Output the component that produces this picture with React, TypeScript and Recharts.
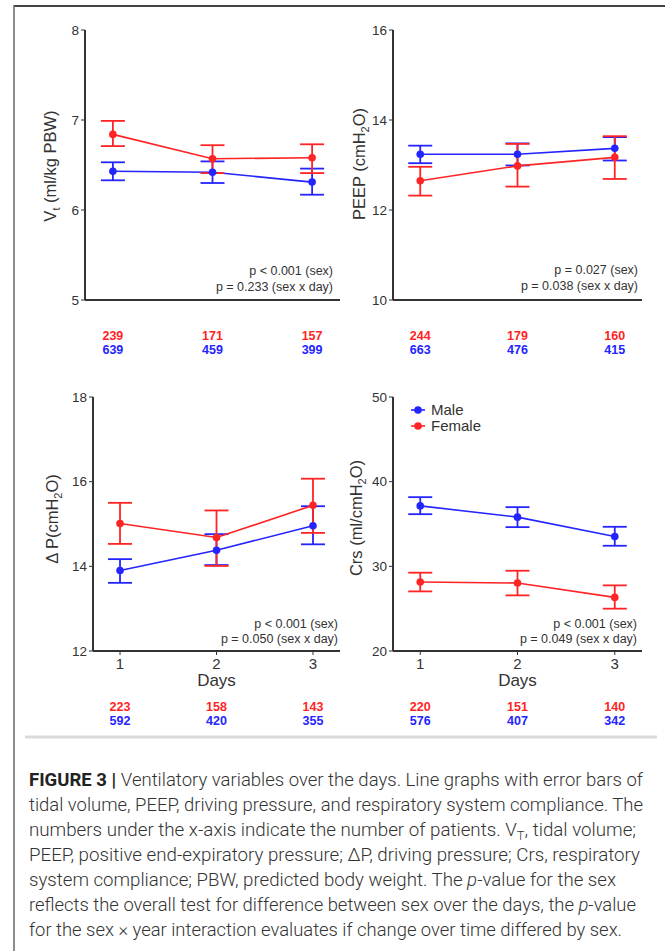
import { LineChart, Line, XAxis, YAxis, ErrorBar, Legend } from "recharts";

const days = [1, 2, 3];

// Tidal volume (ml/kg PBW)
const vtMale = [6.43, 6.42, 6.31];
const vtMaleLow = [6.33, 6.3, 6.17];
const vtMaleHigh = [6.53, 6.54, 6.46];
const vtFemale = [6.84, 6.57, 6.58];
const vtFemaleLow = [6.71, 6.41, 6.41];
const vtFemaleHigh = [6.99, 6.72, 6.73];
const vtMaleN = [639, 459, 399];
const vtFemaleN = [239, 171, 157];
const vtTicks = [5, 6, 7, 8];

// PEEP (cmH2O)
const peepMale = [13.24, 13.24, 13.37];
const peepMaleLow = [13.04, 12.99, 13.1];
const peepMaleHigh = [13.43, 13.48, 13.62];
const peepFemale = [12.65, 12.98, 13.17];
const peepFemaleLow = [12.32, 12.52, 12.69];
const peepFemaleHigh = [12.96, 13.47, 13.64];
const peepMaleN = [663, 476, 415];
const peepFemaleN = [244, 179, 160];
const peepTicks = [10, 12, 14, 16];

// Driving pressure (cmH2O)
const dpMale = [13.9, 14.38, 14.96];
const dpMaleLow = [13.61, 14.03, 14.52];
const dpMaleHigh = [14.17, 14.76, 15.42];
const dpFemale = [15.01, 14.68, 15.44];
const dpFemaleLow = [14.53, 14.01, 14.79];
const dpFemaleHigh = [15.5, 15.32, 16.07];
const dpMaleN = [592, 420, 355];
const dpFemaleN = [223, 158, 143];
const dpTicks = [12, 14, 16, 18];

// Respiratory system compliance (ml/cmH2O)
const crsMale = [37.14, 35.81, 33.53];
const crsMaleLow = [36.16, 34.63, 32.43];
const crsMaleHigh = [38.17, 36.99, 34.67];
const crsFemale = [28.15, 28.03, 26.33];
const crsFemaleLow = [27.04, 26.57, 25.0];
const crsFemaleHigh = [29.25, 29.48, 27.75];
const crsMaleN = [576, 407, 342];
const crsFemaleN = [220, 151, 140];
const crsTicks = [20, 30, 40, 50];

const legendOrder = ["Male", "Female"];

const RED = "#ff2424";
const BLUE = "#2424ff";
const INK = "#333";
const FONT = "'Liberation Sans', Arial, sans-serif";

type Row = {
  day: number;
  male: number;
  maleErr: [number, number];
  female: number;
  femaleErr: [number, number];
  maleN: number;
  femaleN: number;
};

function buildRows(
  m: number[], mLo: number[], mHi: number[],
  f: number[], fLo: number[], fHi: number[],
  mN: number[], fN: number[]
): Row[] {
  return days.map((day, i) => ({
    day,
    male: m[i],
    maleErr: [m[i] - mLo[i], mHi[i] - m[i]],
    female: f[i],
    femaleErr: [f[i] - fLo[i], fHi[i] - f[i]],
    maleN: mN[i],
    femaleN: fN[i],
  }));
}

const vtRows = buildRows(vtMale, vtMaleLow, vtMaleHigh, vtFemale, vtFemaleLow, vtFemaleHigh, vtMaleN, vtFemaleN);
const peepRows = buildRows(peepMale, peepMaleLow, peepMaleHigh, peepFemale, peepFemaleLow, peepFemaleHigh, peepMaleN, peepFemaleN);
const dpRows = buildRows(dpMale, dpMaleLow, dpMaleHigh, dpFemale, dpFemaleLow, dpFemaleHigh, dpMaleN, dpFemaleN);
const crsRows = buildRows(crsMale, crsMaleLow, crsMaleHigh, crsFemale, crsFemaleLow, crsFemaleHigh, crsMaleN, crsFemaleN);

type Box = { left: number; top: number; width: number; height: number };
type Plot = { x0: number; x1: number; y0: number; y1: number };

interface PanelProps {
  rows: Row[];
  ticks: number[];
  box: Box;
  plot: Plot;
  bottom?: boolean;
  legend?: boolean;
}

function Panel({ rows, ticks, box, plot, bottom, legend }: PanelProps) {
  const yW = 30;
  const xH = bottom ? 75 : 50;
  const margin = {
    left: plot.x0 - box.left - yW,
    right: box.left + box.width - plot.x1,
    top: plot.y0 - box.top,
    bottom: box.top + box.height - plot.y1 - xH,
  };

  const renderTick = (props: any) => {
    const { x, y, payload } = props;
    const row = rows.find((r) => r.day === payload.value);
    if (!row) return <g />;
    const redY = bottom ? 56 : 40;
    const blueY = bottom ? 70 : 54;
    return (
      <g>
        {bottom && (
          <text x={x} y={y + 14} textAnchor="middle" fill={INK} fontSize={15} fontFamily={FONT}>
            {row.day}
          </text>
        )}
        <text x={x} y={y + redY} textAnchor="middle" fill={RED} fontSize={12.5} fontWeight={700} fontFamily={FONT}>
          {row.femaleN}
        </text>
        <text x={x} y={y + blueY} textAnchor="middle" fill={BLUE} fontSize={12.5} fontWeight={700} fontFamily={FONT}>
          {row.maleN}
        </text>
      </g>
    );
  };

  return (
    <div style={{ position: "absolute", left: box.left, top: box.top }}>
      <LineChart width={box.width} height={box.height} data={rows} margin={margin}>
        <XAxis
          type="number"
          dataKey="day"
          domain={[0.72, 3.28]}
          ticks={days}
          interval={0}
          allowDataOverflow
          height={xH}
          axisLine={{ stroke: INK, strokeWidth: 2 }}
          tickLine={bottom ? { stroke: INK, strokeWidth: 1 } : false}
          tickSize={bottom ? 4 : 0}
          tickMargin={0}
          tick={renderTick}
        />
        <YAxis
          type="number"
          domain={[ticks[0], ticks[ticks.length - 1]]}
          ticks={ticks}
          interval={0}
          allowDataOverflow
          width={yW}
          axisLine={{ stroke: INK, strokeWidth: 2 }}
          tickLine={{ stroke: INK, strokeWidth: 1 }}
          tickSize={4}
          tickMargin={2}
          tick={{ fill: INK, fontSize: 13.5, fontFamily: FONT }}
        />
        {legend && (
          <Legend
            layout="vertical"
            align="center"
            verticalAlign="middle"
            wrapperStyle={{ left: 411 - box.left, top: 402 - box.top, width: "auto", height: "auto" }}
            content={({ payload }: any) => {
              const items = [...(payload || [])].sort(
                (a: any, b: any) => legendOrder.indexOf(a.value) - legendOrder.indexOf(b.value)
              );
              return (
                <div style={{ fontFamily: FONT, fontSize: 15, color: INK }}>
                  {items.map((p: any) => (
                    <div key={p.value} style={{ display: "flex", alignItems: "center", height: 15.7 }}>
                      <svg width={14} height={12} style={{ marginRight: 6 }}>
                        <line x1={0} y1={6} x2={14} y2={6} stroke={p.color} strokeWidth={1.6} />
                        <circle cx={7} cy={6} r={3.8} fill={p.color} />
                      </svg>
                      <span>{p.value}</span>
                    </div>
                  ))}
                </div>
              );
            }}
          />
        )}
        <Line
          name="Male"
          dataKey="male"
          type="linear"
          stroke={BLUE}
          strokeWidth={1.6}
          dot={{ r: 3.8, fill: BLUE, stroke: BLUE, strokeWidth: 0 }}
          activeDot={false}
          isAnimationActive={false}
        >
          <ErrorBar dataKey="maleErr" direction="y" width={12} stroke={BLUE} strokeWidth={1.8} />
        </Line>
        <Line
          name="Female"
          dataKey="female"
          type="linear"
          stroke={RED}
          strokeWidth={1.6}
          dot={{ r: 3.8, fill: RED, stroke: RED, strokeWidth: 0 }}
          activeDot={false}
          isAnimationActive={false}
        >
          <ErrorBar dataKey="femaleErr" direction="y" width={12} stroke={RED} strokeWidth={1.8} />
        </Line>
      </LineChart>
    </div>
  );
}

function YLabel({ x, y, children }: { x: number; y: number; children: React.ReactNode }) {
  return (
    <text
      x={x}
      y={y}
      transform={`rotate(-90 ${x} ${y})`}
      textAnchor="middle"
      fontSize={16.5}
      fill={INK}
      fontFamily={FONT}
    >
      {children}
    </text>
  );
}

function PText({ x, y, lines }: { x: number; y: number; lines: string[] }) {
  return (
    <>
      {lines.map((l, i) => (
        <text key={i} x={x} y={y + i * 15.5} textAnchor="end" fontSize={12.5} fill={INK} fontFamily={FONT}>
          {l}
        </text>
      ))}
    </>
  );
}

const CAP_FONT = "Roboto, 'Liberation Sans', Arial, sans-serif";

function CaptionLine({ y, len, children }: { y: number; len: number; children: React.ReactNode }) {
  return (
    <text
      x={29}
      y={y}
      textLength={len}
      lengthAdjust="spacingAndGlyphs"
      fontSize={17.5}
      fontWeight={300}
      fill="#333"
      fontFamily={CAP_FONT}
    >
      {children}
    </text>
  );
}

export default function App() {
  return (
    <div
      style={{
        position: "absolute",
        left: 0,
        top: 0,
        width: 667,
        height: 951,
        background: "#fff",
        overflow: "hidden",
      }}
    >
      <Panel rows={vtRows} ticks={vtTicks} box={{ left: 16, top: 8, width: 330, height: 352 }} plot={{ x0: 85, x1: 340, y0: 30, y1: 300 }} />
      <Panel rows={peepRows} ticks={peepTicks} box={{ left: 346, top: 8, width: 314, height: 352 }} plot={{ x0: 393, x1: 642, y0: 30, y1: 300 }} />
      <Panel rows={dpRows} ticks={dpTicks} box={{ left: 16, top: 362, width: 330, height: 372 }} plot={{ x0: 93, x1: 340, y0: 397, y1: 651 }} bottom />
      <Panel rows={crsRows} ticks={crsTicks} box={{ left: 346, top: 362, width: 314, height: 372 }} plot={{ x0: 393, x1: 642, y0: 397, y1: 651 }} bottom legend />

      <svg width={667} height={951} style={{ position: "absolute", left: 0, top: 0, pointerEvents: "none" }}>
        {/* frame */}
        <line x1={14} y1={6} x2={665} y2={6} stroke="#444" strokeWidth={2} />
        <line x1={14} y1={5} x2={14} y2={951} stroke="#666" strokeWidth={1.5} />
        <line x1={25} y1={737} x2={657} y2={737} stroke="#dadada" strokeWidth={3} />

        {/* axis titles */}
        <YLabel x={56} y={166}>
          <tspan>V</tspan>
          <tspan dy={4} fontSize={11}>t</tspan>
          <tspan dy={-4}> (ml/kg PBW)</tspan>
        </YLabel>
        <YLabel x={365} y={164}>
          <tspan>PEEP (cmH</tspan>
          <tspan dy={4} fontSize={11}>2</tspan>
          <tspan dy={-4}>O)</tspan>
        </YLabel>
        <YLabel x={58} y={519}>
          <tspan>Δ P(cmH</tspan>
          <tspan dy={4} fontSize={11}>2</tspan>
          <tspan dy={-4}>O)</tspan>
        </YLabel>
        <YLabel x={362} y={518}>
          <tspan>Crs (ml/cmH</tspan>
          <tspan dy={4} fontSize={11}>2</tspan>
          <tspan dy={-4}>O)</tspan>
        </YLabel>
        <text x={216.5} y={686} textAnchor="middle" fontSize={17} fill={INK} fontFamily={FONT}>Days</text>
        <text x={517.5} y={686} textAnchor="middle" fontSize={17} fill={INK} fontFamily={FONT}>Days</text>

        {/* p-values */}
        <PText x={333} y={275} lines={["p < 0.001 (sex)", "p = 0.233 (sex x day)"]} />
        <PText x={638} y={274} lines={["p = 0.027 (sex)", "p = 0.038 (sex x day)"]} />
        <PText x={338} y={627.5} lines={["p < 0.001 (sex)", "p = 0.050 (sex x day)"]} />
        <PText x={637} y={627.5} lines={["p < 0.001 (sex)", "p = 0.049 (sex x day)"]} />

        {/* caption */}
        <CaptionLine y={786} len={614}>
          <tspan fontWeight={700} fill="#222">FIGURE 3 | </tspan>
          <tspan>Ventilatory variables over the days. Line graphs with error bars of</tspan>
        </CaptionLine>
        <CaptionLine y={811} len={614}>
          tidal volume, PEEP, driving pressure, and respiratory system compliance. The
        </CaptionLine>
        <CaptionLine y={836} len={607}>
          <tspan>numbers under the x-axis indicate the number of patients. V</tspan>
          <tspan dy={4} fontSize={12}>T</tspan>
          <tspan dy={-4}>, tidal volume;</tspan>
        </CaptionLine>
        <CaptionLine y={861} len={611}>
          PEEP, positive end-expiratory pressure; ΔP, driving pressure; Crs, respiratory
        </CaptionLine>
        <CaptionLine y={886} len={587}>
          <tspan>system compliance; PBW, predicted body weight. The </tspan>
          <tspan fontStyle="italic">p</tspan>
          <tspan>-value for the sex</tspan>
        </CaptionLine>
        <CaptionLine y={911} len={607}>
          <tspan>reflects the overall test for difference between sex over the days, the </tspan>
          <tspan fontStyle="italic">p</tspan>
          <tspan>-value</tspan>
        </CaptionLine>
        <CaptionLine y={936} len={593}>
          for the sex × year interaction evaluates if change over time differed by sex.
        </CaptionLine>
      </svg>
    </div>
  );
}
